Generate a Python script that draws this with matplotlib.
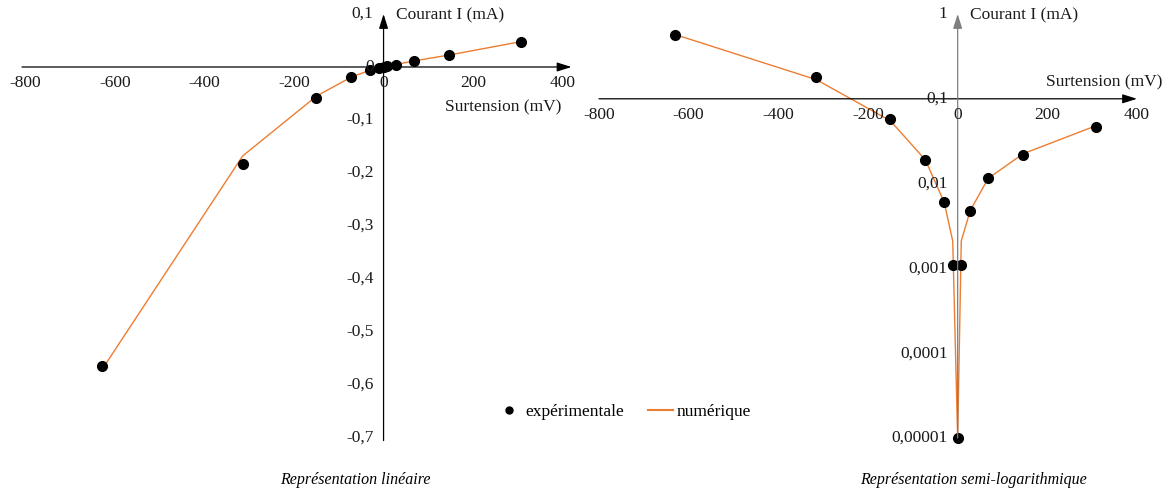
import matplotlib.pyplot as plt
from matplotlib.lines import Line2D

W, H = 1171, 490

# experimental points : overpotential (mV) / current (mA)
surtension_exp = [-630, -315, -150, -72, -30, -11, 0, 8, 28, 68, 146, 308]
courant_exp = [-0.565, -0.183, -0.058, -0.019, -0.006, -0.0011, 0.00001,
               0.0011, 0.0047, 0.0115, 0.022, 0.047]

# numerical model
surtension_num = [-630, -315, -150, -72, -30, -11, 0, 8, 28, 68, 146, 308]
courant_num = [-0.572, -0.168, -0.055, -0.019, -0.006, -0.0021, 0.00001,
               0.0021, 0.0048, 0.0115, 0.0225, 0.048]

lin_xticks = [-800, -600, -400, -200, 0, 200, 400]
lin_yticks = [0.1, 0, -0.1, -0.2, -0.3, -0.4, -0.5, -0.6, -0.7]
log_xticks = [-800, -600, -400, -200, 0, 200, 400]
log_yticks = [1, 0.1, 0.01, 0.001, 0.0001, 0.00001]
log_ylabels = ['1', '0,1', '0,01', '0,001', '0,0001', '0,00001']

ORANGE = '#ED7D31'
FONT = 'Liberation Serif'
plt.rcParams['font.family'] = [FONT, 'DejaVu Serif']
plt.rcParams['font.size'] = 12.5


def px_axes(fig, left, top, right, bottom):
  return fig.add_axes([left / W, 1 - bottom / H, (right - left) / W, (bottom - top) / H])


def fr(v):
  return ('%g' % v).replace('.', ',')


def arrow(ax, start, end, color='k'):
  ax.annotate('', xy=end, xytext=start, annotation_clip=False,
              arrowprops=dict(arrowstyle='-|>,head_width=0.22,head_length=0.7',
                              color=color, lw=0.9, shrinkA=0, shrinkB=0))


def lbl(ax, text, xy, dx, dy, ha='center', va='center'):
  ax.annotate(text, xy=xy, xytext=(dx, dy), textcoords='offset pixels',
              ha=ha, va=va, annotation_clip=False, color='#1a1a1a')


fig = plt.figure(figsize=(W / 100, H / 100), dpi=100)

# ---- linear representation
ax1 = px_axes(fig, 22, 14, 571.5, 440.6)
ax1.set_xlim(-808, 420)
ax1.set_ylim(-0.705, 0.1)
ax1.axis('off')
arrow(ax1, (-808, 0), (420, 0))
arrow(ax1, (0, -0.705), (0, 0.1))
ax1.plot(surtension_num, courant_num, color=ORANGE, lw=1, clip_on=False)
ax1.plot(surtension_exp, courant_exp, 'o', color='k', ms=7, clip_on=False)
for v in lin_xticks:
  lbl(ax1, fr(v), (v, 0), 0, -16)
for v in lin_yticks:
  lbl(ax1, fr(v), (0, v), -10, 0, ha='right')
lbl(ax1, 'Courant I (mA)', (0, 0.1), 12, -1, ha='left')
lbl(ax1, 'Surtension (mV)', (420, 0), -10, -40, ha='right')

# ---- semi-log representation
ax2 = px_axes(fig, 599, 14, 1137, 438)
ax2.set_yscale('log')
ax2.set_xlim(-800, 400)
ax2.set_ylim(1e-5, 1)
ax2.axis('off')
arrow(ax2, (-800, 0.1), (400, 0.1))
arrow(ax2, (0, 1e-5), (0, 1), color='#7f7f7f')
ax2.plot(surtension_num, [abs(c) for c in courant_num], color=ORANGE, lw=1, clip_on=False)
ax2.plot(surtension_exp, [abs(c) for c in courant_exp], 'o', color='k', ms=7, clip_on=False)
for v in log_xticks:
  lbl(ax2, fr(v), (v, 0.1), 0, -16)
for v, t in zip(log_yticks, log_ylabels):
  lbl(ax2, t, (0, v), -10, 0, ha='right')
lbl(ax2, 'Courant I (mA)', (0, 1), 12, -1, ha='left')
lbl(ax2, 'Surtension (mV)', (400, 0.1), 25, 16, ha='right')

# ---- legend and captions
handles = [Line2D([], [], ls='none', marker='o', color='k', ms=5),
           Line2D([], [], color=ORANGE, lw=1.5)]
fig.legend(handles, ['expérimentale', 'numérique'], loc='center', ncol=2,
           bbox_to_anchor=(624 / W, 1 - 412 / H), frameon=False,
           handlelength=1.4, handletextpad=0.25, columnspacing=1.4, fontsize=12.5)

fig.text(355 / W, 1 - 480 / H, 'Représentation linéaire', style='italic',
         ha='center', va='center', fontsize=11.5)
fig.text(973 / W, 1 - 480 / H, 'Représentation semi-logarithmique', style='italic',
         ha='center', va='center', fontsize=11.5)

fig.savefig('out.png', dpi=100)
